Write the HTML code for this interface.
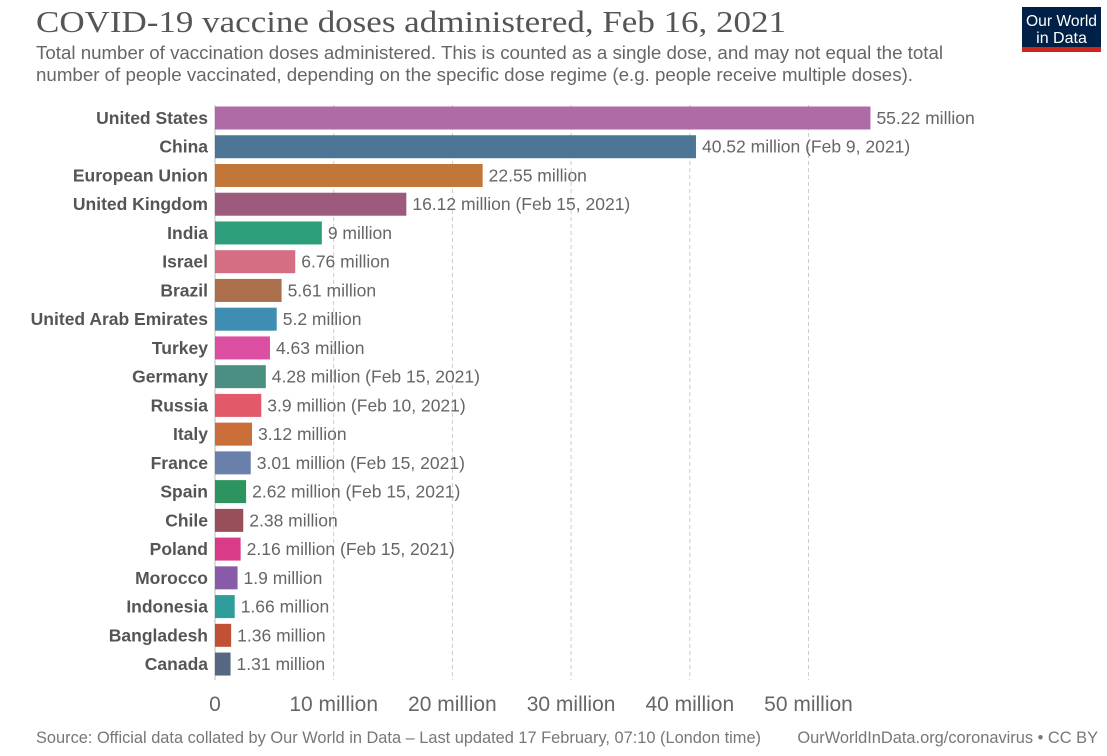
<!DOCTYPE html>
<html><head><meta charset="utf-8"><style>
body{margin:0;background:#fff;width:1107px;height:751px;overflow:hidden}
svg text{font-family:"Liberation Sans",Arial,sans-serif}
</style></head><body>
<svg width="1107" height="751" xmlns="http://www.w3.org/2000/svg">
<text x="36" y="32" style="font-family:'Liberation Serif',serif" font-size="31" fill="#555" textLength="750" lengthAdjust="spacingAndGlyphs">COVID-19 vaccine doses administered, Feb 16, 2021</text>
<text x="36" y="59" font-size="18" fill="#666" textLength="907" lengthAdjust="spacingAndGlyphs">Total number of vaccination doses administered. This is counted as a single dose, and may not equal the total</text>
<text x="36" y="81" font-size="18" fill="#666" textLength="877" lengthAdjust="spacingAndGlyphs">number of people vaccinated, depending on the specific dose regime (e.g. people receive multiple doses).</text>
<rect x="1022" y="7" width="79" height="42" fill="#002147"/>
<rect x="1022" y="47" width="79" height="5" fill="#ce261e"/>
<text x="1061.5" y="26" font-size="16" fill="#fff" text-anchor="middle" textLength="71" lengthAdjust="spacingAndGlyphs">Our World</text>
<text x="1061.5" y="43" font-size="16" fill="#fff" text-anchor="middle">in Data</text>
<g stroke="#ccc" stroke-dasharray="4,3">
<line x1="333.7" y1="105" x2="333.7" y2="680"/><line x1="452.4" y1="105" x2="452.4" y2="680"/><line x1="571.1" y1="105" x2="571.1" y2="680"/><line x1="689.8" y1="105" x2="689.8" y2="680"/><line x1="808.5" y1="105" x2="808.5" y2="680"/>
</g>
<line x1="215" y1="105" x2="215" y2="680" stroke="#bbb"/>
<g font-size="21" fill="#666" text-anchor="middle">
<text x="215" y="711">0</text><text x="333.7" y="711">10 million</text><text x="452.4" y="711">20 million</text><text x="571.1" y="711">30 million</text><text x="689.8" y="711">40 million</text><text x="808.5" y="711">50 million</text>
</g>
<g id="bars" font-size="17.5"></g>
<text x="36" y="743" font-size="16.4" fill="#777" textLength="725" lengthAdjust="spacingAndGlyphs">Source: Official data collated by Our World in Data – Last updated 17 February, 07:10 (London time)</text>
<text x="1098" y="743" font-size="16.4" fill="#777" text-anchor="end">OurWorldInData.org/coronavirus • CC BY</text>
</svg>
<script>
const d=[["United States",55.22,"55.22 million","#a8609e"],["China",40.52,"40.52 million (Feb 9, 2021)","#3f6a8e"],["European Union",22.55,"22.55 million","#bd6d2a"],["United Kingdom",16.12,"16.12 million (Feb 15, 2021)","#954f73"],["India",9,"9 million","#1e9672"],["Israel",6.76,"6.76 million","#d2637a"],["Brazil",5.61,"5.61 million","#a6643d"],["United Arab Emirates",5.2,"5.2 million","#2e85ac"],["Turkey",4.63,"4.63 million","#d9419b"],["Germany",4.28,"4.28 million (Feb 15, 2021)","#3d877a"],["Russia",3.9,"3.9 million (Feb 10, 2021)","#e04d5f"],["Italy",3.12,"3.12 million","#c8632b"],["France",3.01,"3.01 million (Feb 15, 2021)","#5c76a4"],["Spain",2.62,"2.62 million (Feb 15, 2021)","#1d8c53"],["Chile",2.38,"2.38 million","#91424c"],["Poland",2.16,"2.16 million (Feb 15, 2021)","#d62c80"],["Morocco",1.9,"1.9 million","#7f4ea3"],["Indonesia",1.66,"1.66 million","#1f9792"],["Bangladesh",1.36,"1.36 million","#bb4422"],["Canada",1.31,"1.31 million","#495c77"]];
let h="";d.forEach((r,i)=>{const c=118+i*28.74,w=r[1]*11.87;
h+=`<rect x="215" y="${c-11.5}" width="${w}" height="23" fill="${r[3]}" opacity="0.93"/>`;
h+=`<text x="208" y="${c+6}" text-anchor="end" font-weight="bold" fill="#555">${r[0]}</text>`;
h+=`<text x="${221+w}" y="${c+6}" fill="#666">${r[2]}</text>`;});
document.getElementById("bars").innerHTML=h;
</script>
</body></html>
